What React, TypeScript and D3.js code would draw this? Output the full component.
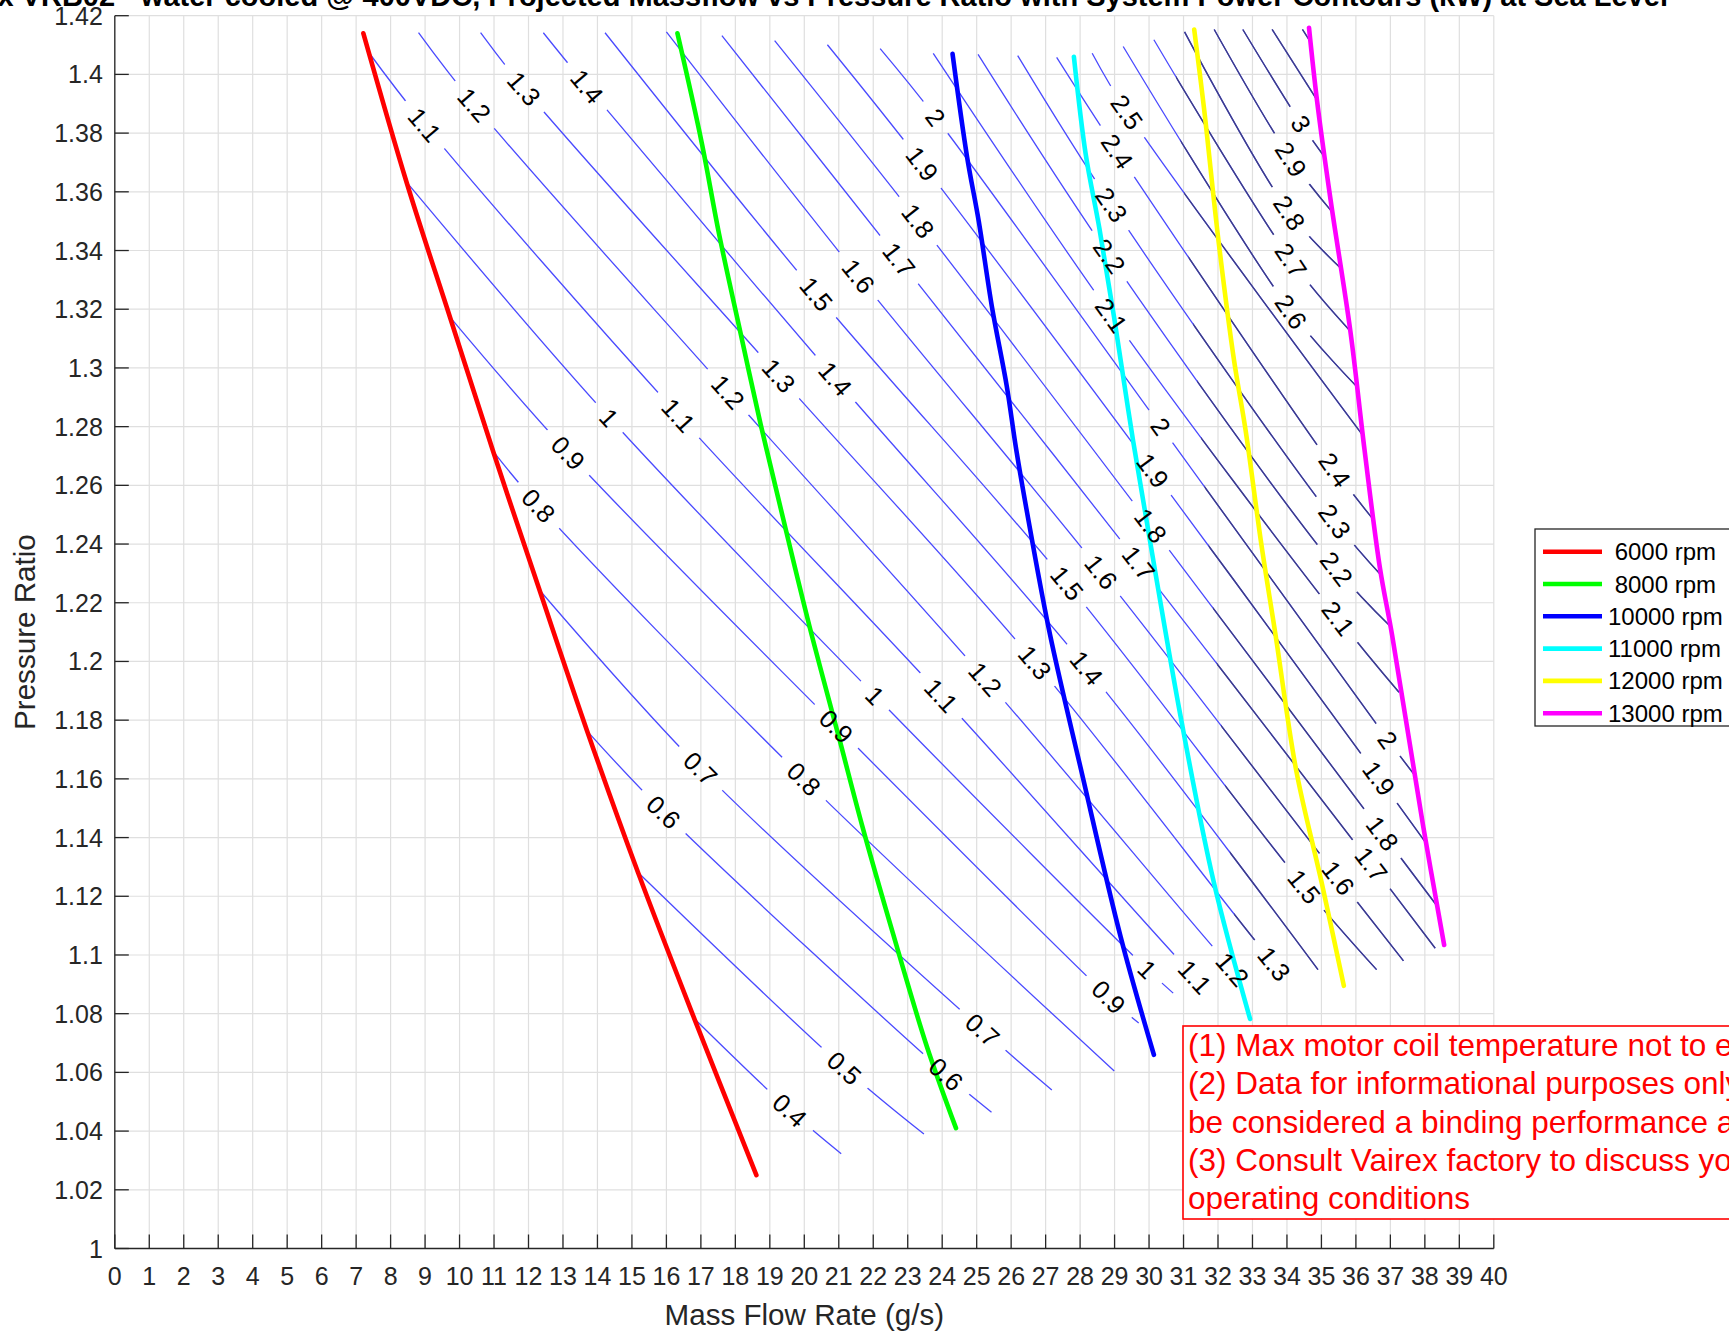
import React from "react";
import * as d3 from "d3";

const WIDTH = 1729;
const HEIGHT = 1333;

const titleText =
  "Vairex VRB02 - water cooled @ 400VDC, Projected Massflow vs Pressure Ratio with System Power Contours (kW) at Sea Level";
const xLabelText = "Mass Flow Rate (g/s)";
const yLabelText = "Pressure Ratio";

const xTicks = [0, 1, 2, 3, 4, 5, 6, 7, 8, 9, 10, 11, 12, 13, 14, 15, 16, 17, 18, 19, 20, 21, 22, 23, 24, 25, 26, 27, 28, 29, 30, 31, 32, 33, 34, 35, 36, 37, 38, 39, 40];
const yTicks = [1, 1.02, 1.04, 1.06, 1.08, 1.1, 1.12, 1.14, 1.16, 1.18, 1.2, 1.22, 1.24, 1.26, 1.28, 1.3, 1.32, 1.34, 1.36, 1.38, 1.4, 1.42];
const yTickLabels = ["1", "1.02", "1.04", "1.06", "1.08", "1.1", "1.12", "1.14", "1.16", "1.18", "1.2", "1.22", "1.24", "1.26", "1.28", "1.3", "1.32", "1.34", "1.36", "1.38", "1.4", "1.42"];

// speed lines (mass flow g/s, pressure ratio)
const rpm6000: [number, number][] = [[7.21, 1.414], [8.47, 1.363], [9.73, 1.317], [10.99, 1.271], [12.3, 1.225], [13.71, 1.176], [15.18, 1.128], [16.82, 1.078], [18.61, 1.025]];
const rpm8000: [number, number][] = [[16.32, 1.414], [17.02, 1.377], [17.53, 1.3455], [18.13, 1.313], [18.73, 1.281], [19.4, 1.248], [20.15, 1.212], [21.03, 1.173], [21.68, 1.144], [22.58, 1.107], [23.55, 1.069], [24.4, 1.041]];
const rpm10000: [number, number][] = [[24.3, 1.407], [24.72, 1.372], [25.06, 1.35], [25.44, 1.321], [25.87, 1.294], [26.15, 1.272], [26.55, 1.245], [27.13, 1.209], [28.03, 1.163], [29.18, 1.106], [30.14, 1.066]];
const rpm11000: [number, number][] = [[27.82, 1.406], [28.16, 1.373], [28.56, 1.3475], [28.99, 1.317], [29.54, 1.275], [30.18, 1.2305], [30.91, 1.1816], [31.87, 1.1252], [32.93, 1.0782]];
const rpm12000: [number, number][] = [[31.31, 1.4153], [31.6, 1.3879], [32.0, 1.3448], [32.46, 1.303], [32.8, 1.2788], [33.26, 1.2397], [33.67, 1.209], [34.27, 1.1628], [35.0, 1.125], [35.65, 1.0895]];
const rpm13000: [number, number][] = [[34.64, 1.4159], [34.87, 1.3913], [35.27, 1.3569], [35.84, 1.3125], [36.25, 1.2721], [36.7, 1.2316], [37.05, 1.209], [37.95, 1.144], [38.56, 1.1034]];

const speedNames = [" 6000 rpm", " 8000 rpm", "10000 rpm", "11000 rpm", "12000 rpm", "13000 rpm"];
const speedColors = ["#ff0000", "#00ff00", "#0000ff", "#00ffff", "#ffff00", "#ff00ff"];
const speedSeries = [rpm6000, rpm8000, rpm10000, rpm11000, rpm12000, rpm13000];

// power contours (kW): [mass flow, pressure ratio, label here (1) or not (0)]
type CP = [number, number, number];
const kw04: CP[] = [[16.82, 1.0782, 0], [19.58, 1.0471, 1], [21.07, 1.0323, 0]];
const kw05: CP[] = [[15.18, 1.1281, 0], [21.16, 1.0615, 1], [23.47, 1.039, 0]];
const kw06: CP[] = [[13.71, 1.1762, 0], [15.92, 1.1487, 1], [24.11, 1.0594, 1], [25.43, 1.0464, 0]];
const kw07: CP[] = [[12.3, 1.2246, 0], [16.99, 1.1635, 1], [25.17, 1.0745, 1], [27.18, 1.054, 0]];
const kw08: CP[] = [[10.99, 1.2714, 0], [12.29, 1.2531, 1], [19.99, 1.16, 1], [28.99, 1.0605, 0]];
const kw09: CP[] = [[9.73, 1.3172, 0], [13.15, 1.2711, 1], [20.93, 1.1779, 1], [28.83, 1.0857, 1], [29.7, 1.0768, 0]];
const kw10: CP[] = [[8.47, 1.3632, 0], [14.34, 1.2831, 1], [22.05, 1.1884, 1], [29.95, 1.0951, 1], [30.7, 1.087, 0]];
const kw11: CP[] = [[7.31, 1.4084, 0], [8.99, 1.3828, 1], [16.35, 1.2839, 1], [23.97, 1.1884, 1], [31.33, 1.0925, 1], [31.9, 1.086, 0]];
const kw12: CP[] = [[8.81, 1.4142, 0], [10.43, 1.3896, 1], [17.79, 1.2918, 1], [25.25, 1.194, 1], [32.42, 1.0951, 1], [33.0, 1.088, 0]];
const kw13: CP[] = [[10.61, 1.4142, 0], [11.87, 1.3952, 1], [19.26, 1.2974, 1], [26.69, 1.1997, 1], [33.63, 1.097, 1], [34.2, 1.09, 0]];
const kw14: CP[] = [[12.43, 1.4142, 0], [13.7, 1.3959, 1], [20.9, 1.2963, 1], [28.19, 1.1978, 1], [34.9, 1.095, 0]];
const kw15: CP[] = [[14.22, 1.4142, 0], [20.35, 1.3252, 1], [27.62, 1.2267, 1], [34.5, 1.1233, 1], [36.6, 1.095, 0]];
const kw16: CP[] = [[16.0, 1.4145, 0], [21.57, 1.3313, 1], [28.61, 1.2305, 1], [35.49, 1.1263, 1], [37.38, 1.098, 0]];
const kw17: CP[] = [[17.61, 1.4132, 0], [22.75, 1.3369, 1], [29.7, 1.2335, 1], [36.45, 1.1309, 1], [38.3, 1.1023, 0]];
const kw18: CP[] = [[19.14, 1.4115, 0], [23.3, 1.3501, 1], [30.05, 1.2463, 1], [36.77, 1.1414, 1], [38.36, 1.1166, 0]];
const kw19: CP[] = [[20.67, 1.4101, 0], [23.42, 1.3696, 1], [30.11, 1.2651, 1], [36.67, 1.1602, 1], [38.03, 1.1382, 0]];
const kw20: CP[] = [[22.2, 1.4088, 0], [23.81, 1.3854, 1], [30.34, 1.2801, 1], [36.93, 1.1733, 1], [37.72, 1.161, 0]];
const kw21: CP[] = [[23.74, 1.4072, 0], [28.91, 1.3179, 1], [35.49, 1.2147, 1], [37.25, 1.1895, 0]];
const kw22: CP[] = [[25.04, 1.4068, 0], [28.85, 1.3381, 1], [35.44, 1.2316, 1], [36.99, 1.2121, 0]];
const kw23: CP[] = [[26.19, 1.4064, 0], [28.91, 1.3556, 1], [35.39, 1.2478, 1], [36.76, 1.229, 0]];
const kw24: CP[] = [[27.32, 1.4058, 0], [29.08, 1.3738, 1], [35.39, 1.2653, 1], [36.53, 1.248, 0]];
const kw25: CP[] = [[28.35, 1.4072, 0], [29.36, 1.3872, 1], [36.2, 1.277, 0]];
const kw26: CP[] = [[29.25, 1.4095, 0], [34.12, 1.3192, 1], [36.03, 1.2936, 0]];
const kw27: CP[] = [[30.14, 1.4118, 0], [34.12, 1.3367, 1], [35.84, 1.3125, 0]];
const kw28: CP[] = [[31.03, 1.4145, 0], [34.07, 1.3529, 1], [35.56, 1.334, 0]];
const kw29: CP[] = [[31.89, 1.4153, 0], [34.12, 1.3711, 1], [35.32, 1.353, 0]];
const kw30: CP[] = [[32.72, 1.4153, 0], [34.41, 1.3832, 1], [35.1, 1.3717, 0]];
const kw31: CP[] = [[33.57, 1.4153, 0], [34.87, 1.3913, 0]];
const kw32: CP[] = [[34.45, 1.4153, 0], [34.69, 1.4109, 0]];

const contourLevels = [0.4, 0.5, 0.6, 0.7, 0.8, 0.9, 1, 1.1, 1.2, 1.3, 1.4, 1.5, 1.6, 1.7, 1.8, 1.9, 2, 2.1, 2.2, 2.3, 2.4, 2.5, 2.6, 2.7, 2.8, 2.9, 3, 3.1, 3.2];
const contourLines = [kw04, kw05, kw06, kw07, kw08, kw09, kw10, kw11, kw12, kw13, kw14, kw15, kw16, kw17, kw18, kw19, kw20, kw21, kw22, kw23, kw24, kw25, kw26, kw27, kw28, kw29, kw30, kw31, kw32];

// region where the contour set is drawn darker (overlapping plot)
const darkRegion: [number, number][] = [[30.6, 1.43], [41, 1.43], [41, 0.99], [33.2, 0.99]];

const noteLines = [
  "(1) Max motor coil temperature not to exceed",
  "(2) Data for informational purposes only and should not",
  "be considered a binding performance agreement",
  "(3) Consult Vairex factory to discuss your",
  "operating conditions",
];

const FONT = "'Liberation Sans', Arial, Helvetica, sans-serif";
const AXIS_COLOR = "#262626";

function textWidth(s: string, size: number) {
  let w = 0;
  for (const ch of s) w += ch === "." ? 0.278 : 0.556;
  return w * size;
}

export default function App() {
  const x = d3.scaleLinear().domain([0, 40]).range([114.8, 1493.8]);
  const y = d3.scaleLinear().domain([1, 1.42]).range([1248.5, 15.7]);
  const [x0, x1] = x.range();
  const [yb, yt] = y.range();

  const contourPath = d3
    .line<CP>()
    .x((d) => x(d[0]))
    .y((d) => y(d[1]))
    .curve(d3.curveCatmullRom.alpha(0.5));
  const speedPath = d3
    .line<[number, number]>()
    .x((d) => x(d[0]))
    .y((d) => y(d[1]))
    .curve(d3.curveCatmullRom.alpha(0.5));

  const labelFont = 25.5;
  const labels: { px: number; py: number; ang: number; text: string; w: number }[] = [];
  contourLines.forEach((pts, ci) => {
    const text = String(contourLevels[ci]);
    pts.forEach((p, i) => {
      if (!p[2]) return;
      const a = pts[Math.max(0, i - 1)];
      const b = pts[Math.min(pts.length - 1, i + 1)];
      const ang = (Math.atan2(y(b[1]) - y(a[1]), x(b[0]) - x(a[0])) * 180) / Math.PI;
      labels.push({ px: x(p[0]), py: y(p[1]), ang, text, w: textWidth(text, labelFont) });
    });
  });

  const darkPoly = "M" + darkRegion.map((d) => `${x(d[0])},${y(d[1])}`).join("L") + "Z";

  return (
    <svg
      width={WIDTH}
      height={HEIGHT}
      style={{ position: "absolute", left: 0, top: 0, background: "#ffffff" }}
      fontFamily={FONT}
    >
      <rect x={0} y={0} width={WIDTH} height={HEIGHT} fill="#ffffff" />
      <defs>
        <clipPath id="plotClip">
          <rect x={x0} y={yt} width={x1 - x0} height={yb - yt} />
        </clipPath>
        <clipPath id="darkClip">
          <path d={darkPoly} />
        </clipPath>
        <mask id="labelGaps" maskUnits="userSpaceOnUse" x={0} y={0} width={WIDTH} height={HEIGHT}>
          <rect x={0} y={0} width={WIDTH} height={HEIGHT} fill="white" />
          {labels.map((l, i) => (
            <rect
              key={i}
              transform={`translate(${l.px},${l.py}) rotate(${l.ang})`}
              x={-(l.w + 26) / 2}
              y={-13}
              width={l.w + 26}
              height={26}
              fill="black"
            />
          ))}
        </mask>
      </defs>

      {/* grid */}
      <g stroke="#dfdfdf" strokeWidth={1.2}>
        {xTicks.map((t) => (
          <line key={"gx" + t} x1={x(t)} x2={x(t)} y1={yt} y2={yb} />
        ))}
        {yTicks.map((t) => (
          <line key={"gy" + t} x1={x0} x2={x1} y1={y(t)} y2={y(t)} />
        ))}
      </g>

      {/* contours */}
      <g clipPath="url(#plotClip)">
        <g mask="url(#labelGaps)" fill="none">
          {contourLines.map((pts, i) => (
            <path key={"c" + i} d={contourPath(pts) || ""} stroke="#4a4aff" strokeWidth={1.3} />
          ))}
          <g clipPath="url(#darkClip)">
            {contourLines.map((pts, i) => (
              <path key={"cd" + i} d={contourPath(pts) || ""} stroke="#3e3e88" strokeWidth={1.4} />
            ))}
          </g>
        </g>
      </g>

      {/* speed lines */}
      <g fill="none" strokeLinecap="round" strokeLinejoin="round">
        {speedSeries.map((s, i) => (
          <path key={"s" + i} d={speedPath(s) || ""} stroke={speedColors[i]} strokeWidth={4.6} />
        ))}
      </g>

      {/* contour labels */}
      <g fontSize={labelFont} fill="#000000" textAnchor="middle">
        {labels.map((l, i) => (
          <text key={"l" + i} transform={`translate(${l.px},${l.py}) rotate(${l.ang})`} dy="0.36em">
            {l.text}
          </text>
        ))}
      </g>

      {/* axes */}
      <g stroke={AXIS_COLOR} strokeWidth={1.3}>
        <line x1={x0} x2={x0} y1={yt} y2={yb} />
        <line x1={x0} x2={x1} y1={yb} y2={yb} />
        {xTicks.map((t) => (
          <line key={"tx" + t} x1={x(t)} x2={x(t)} y1={yb} y2={yb - 14} />
        ))}
        {yTicks.map((t) => (
          <line key={"ty" + t} x1={x0} x2={x0 + 14} y1={y(t)} y2={y(t)} />
        ))}
      </g>
      <g fontSize={25} fill={AXIS_COLOR}>
        {xTicks.map((t) => (
          <text key={"xl" + t} x={x(t)} y={yb + 36} textAnchor="middle">
            {String(t)}
          </text>
        ))}
        {yTicks.map((t, i) => (
          <text key={"yl" + t} x={x0 - 12} y={y(t) + 9} textAnchor="end">
            {yTickLabels[i]}
          </text>
        ))}
      </g>
      <text x={(x0 + x1) / 2} y={1325} textAnchor="middle" fontSize={29.6} fill={AXIS_COLOR}>
        {xLabelText}
      </text>
      <text
        transform={`translate(35,${(yt + yb) / 2}) rotate(-90)`}
        textAnchor="middle"
        fontSize={29.6}
        fill={AXIS_COLOR}
      >
        {yLabelText}
      </text>
      <text x={798} y={6} textAnchor="middle" fontSize={29} fontWeight="bold" fill="#000000">
        {titleText}
      </text>

      {/* legend */}
      <g>
        <rect x={1535} y={529} width={240} height={197} fill="#ffffff" stroke={AXIS_COLOR} strokeWidth={1.3} />
        {speedNames.map((n, i) => (
          <g key={"lg" + i}>
            <line x1={1543} x2={1602} y1={551.7 + i * 32.3} y2={551.7 + i * 32.3} stroke={speedColors[i]} strokeWidth={4.6} />
            <text x={1608} y={551.7 + i * 32.3 + 8.5} fontSize={24} fill="#000000" style={{ whiteSpace: "pre" }}>
              {n}
            </text>
          </g>
        ))}
      </g>

      {/* notes */}
      <g>
        <rect x={1183} y={1026} width={600} height={193} fill="#ffffff" stroke="#ff0000" strokeWidth={1.6} />
        {noteLines.map((t, i) => (
          <text key={"n" + i} x={1188} y={1056 + i * 38.3} fontSize={31.5} fill="#ff0000">
            {t}
          </text>
        ))}
      </g>
    </svg>
  );
}
